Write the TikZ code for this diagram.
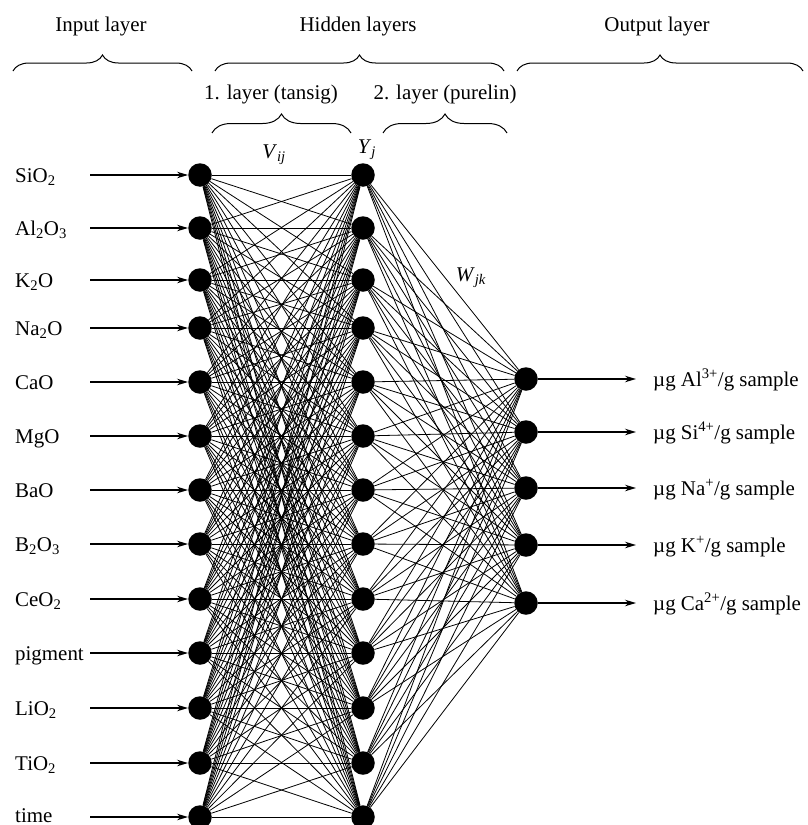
\documentclass[tikz,border=0pt]{standalone}
\usepackage{fontspec}
\setmainfont{Liberation Serif}
\usetikzlibrary{arrows.meta,decorations.pathreplacing}
\begin{document}
\begin{tikzpicture}[x=1bp,y=1bp,
  neuron/.style={circle,fill=black,minimum size=23.5bp,inner sep=0pt},
  lbl/.style={font=\fontsize{21}{25}\selectfont,inner sep=0pt},
  conn/.style={line width=0.8bp},
  ioarrow/.style={line width=1.3bp,-{Stealth[length=11bp,width=6.5bp]}},
  brc/.style={decorate,line width=1bp}]
\useasboundingbox (0,0) rectangle (808,-825);

% input and first hidden layer
\foreach \y [count=\i] in {175,228,280,328,382,436,490,544,599,653,708,763,817} {
  \node[neuron] (i\i) at (200,-\y) {};
  \node[neuron] (h\i) at (363,-\y) {};
  \coordinate (s\i) at (90,-\y);
}
% output layer
\foreach \y [count=\k] in {379,432,488,545,603} {
  \node[neuron] (o\k) at (526,-\y) {};
  \coordinate (e\k) at (636,-\y);
}

% connections
\foreach \a in {1,...,13} \foreach \b in {1,...,13} \draw[conn] (i\a) -- (h\b);
\foreach \a in {1,...,13} \foreach \b in {1,...,5} \draw[conn] (h\a) -- (o\b);

% input arrows and labels
\foreach \i in {1,...,13} \draw[ioarrow] (s\i) -- (i\i);
\foreach \y/\t [count=\i] in {182.5/{SiO\textsubscript{2}},235.5/{Al\textsubscript{2}O\textsubscript{3}},287.5/{K\textsubscript{2}O},335.5/{Na\textsubscript{2}O},389.5/{CaO},443.5/{MgO},497.5/{BaO},551.5/{B\textsubscript{2}O\textsubscript{3}},606.5/{CeO\textsubscript{2}},660.5/{pigment},715.5/{LiO\textsubscript{2}},770.5/{TiO\textsubscript{2}},822.5/{time}}
  \node[lbl,anchor=base west] (l\i) at (15,-\y) {\t};

% output arrows and labels
\foreach \k in {1,...,5} \draw[ioarrow] (o\k) -- (e\k);
\node[lbl,anchor=base west] (r1) at (653,-386) {µg Al\textsuperscript{3+}/g sample};
\node[lbl,anchor=base west] (r2) at (653,-439) {µg Si\textsuperscript{4+}/g sample};
\node[lbl,anchor=base west] (r3) at (653,-495) {µg Na\textsuperscript{+}/g sample};
\node[lbl,anchor=base west] (r4) at (653,-552) {µg K\textsuperscript{+}/g sample};
\node[lbl,anchor=base west] (r5) at (653,-610) {µg Ca\textsuperscript{2+}/g sample};

% weight labels
\node[lbl] (vij) at (274,-155) {\textit{V}\textsubscript{\textit{ij}}};
\node[lbl] (yj) at (367,-150) {\textit{Y}\textsubscript{\textit{j}}};
\node[lbl] (wjk) at (471,-278) {\textit{W}\textsubscript{\textit{jk}}};

% layer titles
\node[lbl] (tin) at (101,-26) {Input layer};
\node[lbl] (thid) at (358,-26) {Hidden layers};
\node[lbl] (tout) at (657,-26) {Output layer};
\node[lbl] (t1) at (271,-94) {1. layer (tansig)};
\node[lbl] (t2) at (445,-94) {2. layer (purelin)};

% braces
\draw[brc,decoration={brace,amplitude=16bp}] (13,-71) -- (192,-71);
\draw[brc,decoration={brace,amplitude=16bp}] (215,-71) -- (504,-71);
\draw[brc,decoration={brace,amplitude=16bp}] (517,-71) -- (803,-71);
\draw[brc,decoration={brace,amplitude=19bp}] (212,-133) -- (351,-133);
\draw[brc,decoration={brace,amplitude=19bp}] (383,-133) -- (507,-133);
\end{tikzpicture}
\end{document}
